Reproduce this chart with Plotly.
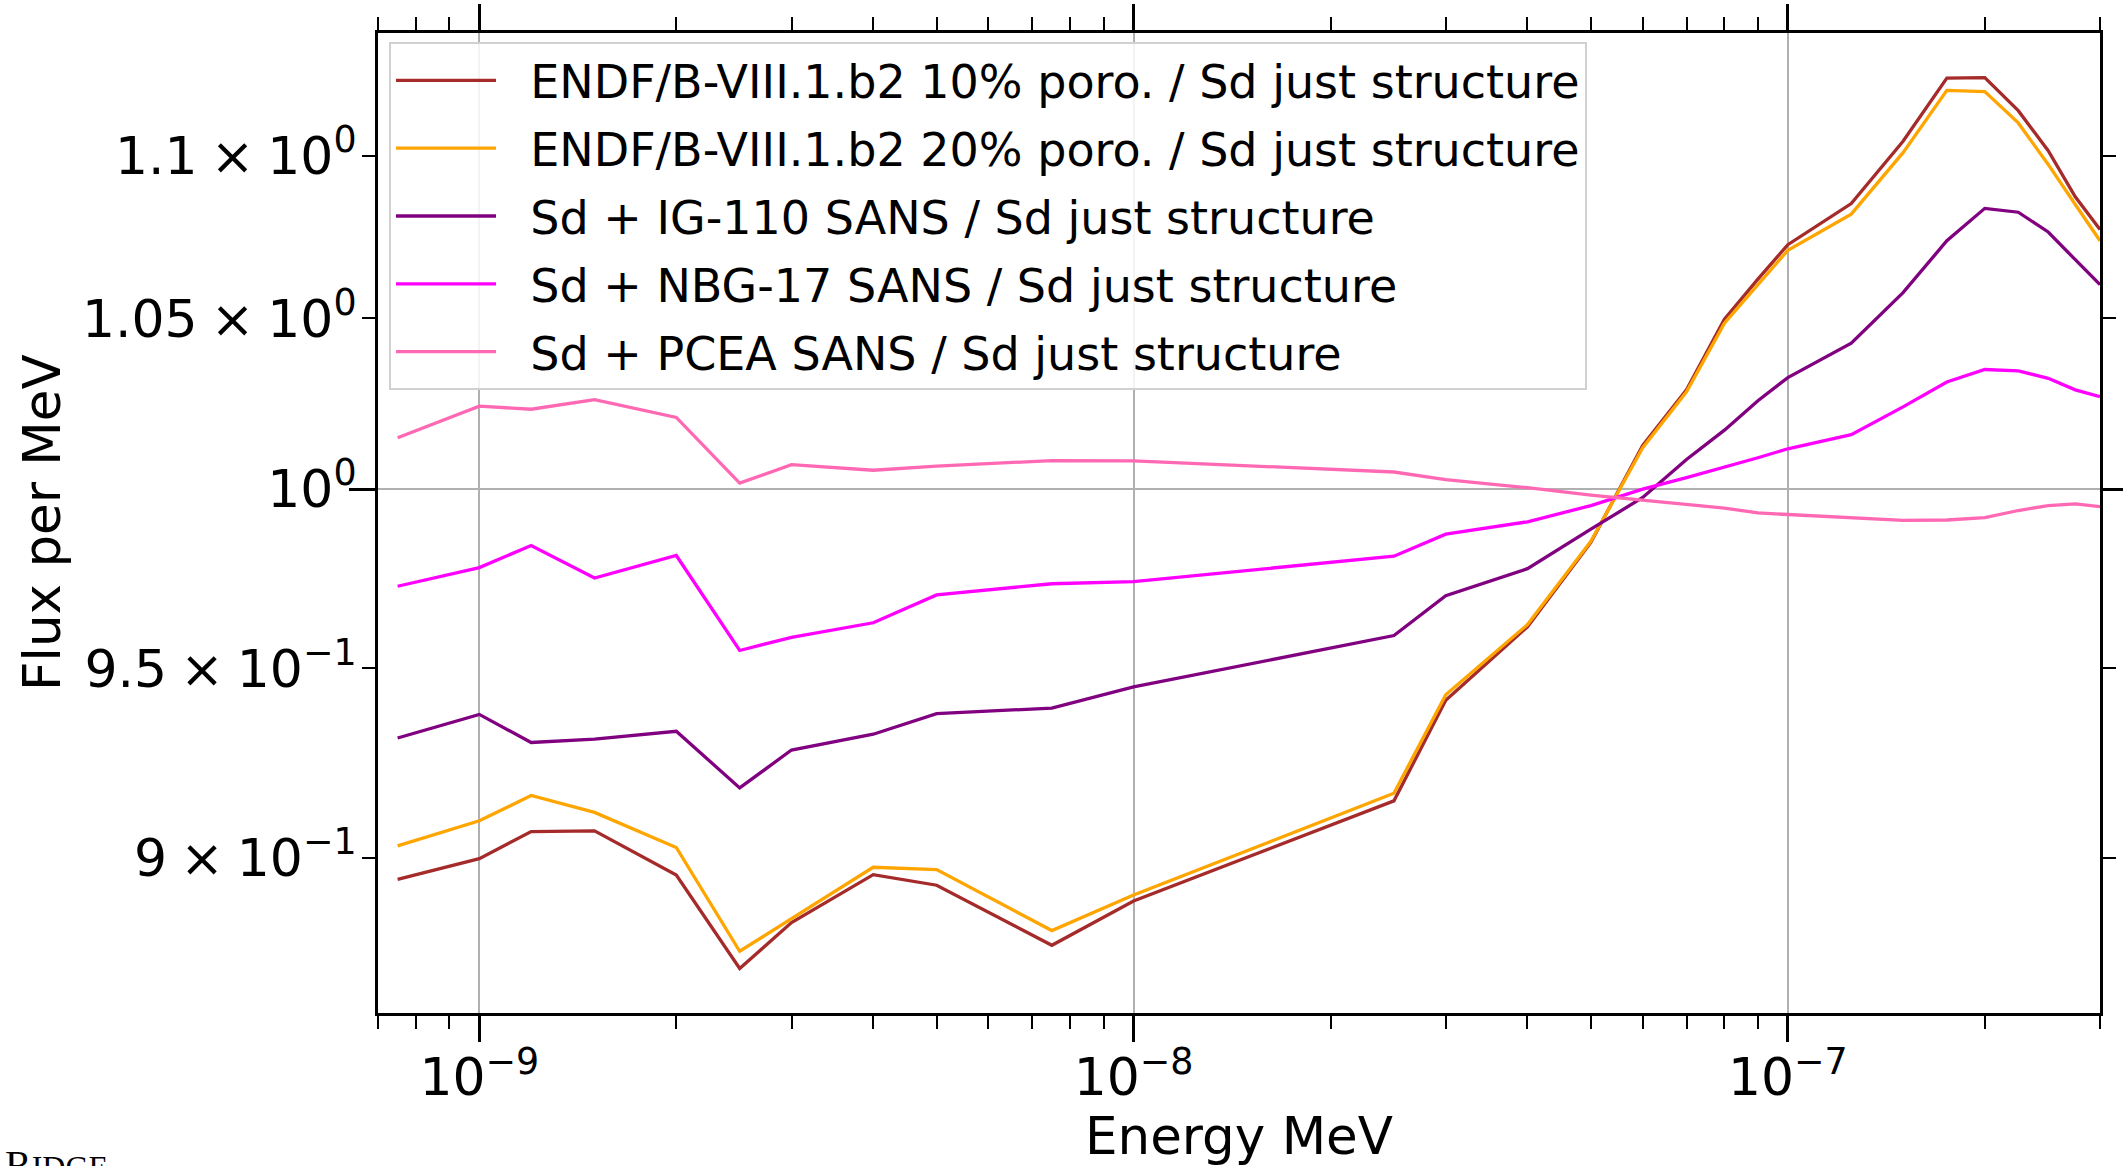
import math
import plotly.graph_objects as go

# ---------------- data ----------------
energy = [7.5e-10, 1e-9, 1.2e-9, 1.5e-9, 2e-9, 2.5e-9, 3e-9, 4e-9, 5e-9, 7.5e-9,
          1e-8, 2.5e-8, 3e-8, 4e-8, 5e-8, 6e-8, 7e-8, 8e-8, 9e-8, 1e-7,
          1.25e-7, 1.5e-7, 1.75e-7, 2e-7, 2.25e-7, 2.5e-7, 2.75e-7, 3e-7]

endf_10 = [0.8944, 0.8997, 0.9067, 0.9069, 0.8955, 0.8719, 0.8834, 0.8956, 0.8929, 0.8777,
           0.8889, 0.9147, 0.9414, 0.9614, 0.9849, 1.0126, 1.0288, 1.0498, 1.0619, 1.0724,
           1.0851, 1.1046, 1.1247, 1.1249, 1.1143, 1.1016, 1.0872, 1.0771]

endf_20 = [0.9030, 0.9095, 0.9161, 0.9117, 0.9026, 0.8762, 0.8844, 0.8975, 0.8969, 0.8814,
           0.8904, 0.9167, 0.9429, 0.9620, 0.9852, 1.0119, 1.0282, 1.0486, 1.0602, 1.0707,
           1.0818, 1.1010, 1.1208, 1.1204, 1.1104, 1.0973, 1.0848, 1.0736]

ig110 = [0.9313, 0.9376, 0.9301, 0.9310, 0.9331, 0.9181, 0.9281, 0.9323, 0.9378, 0.9393,
         0.9450, 0.9590, 0.9700, 0.9775, 0.9886, 0.9976, 1.0085, 1.0170, 1.0256, 1.0324,
         1.0426, 1.0578, 1.0736, 1.0836, 1.0824, 1.0763, 1.0678, 1.0602]

nbg17 = [0.9726, 0.9778, 0.9840, 0.9749, 0.9812, 0.9549, 0.9585, 0.9625, 0.9702, 0.9733,
         0.9739, 0.9810, 0.9872, 0.9907, 0.9953, 1.0000, 1.0033, 1.0062, 1.0090, 1.0116,
         1.0157, 1.0238, 1.0311, 1.0348, 1.0344, 1.0322, 1.0288, 1.0268]

pcea = [1.0148, 1.0240, 1.0231, 1.0259, 1.0207, 1.0017, 1.0070, 1.0054, 1.0066, 1.0082,
        1.0081, 1.0049, 1.0027, 1.0004, 0.9983, 0.9969, 0.9958, 0.9946, 0.9932, 0.9928,
        0.9919, 0.9911, 0.9912, 0.9919, 0.9939, 0.9953, 0.9958, 0.9950]

series_names = [
    "ENDF/B-VIII.1.b2 10% poro. / Sd just structure",
    "ENDF/B-VIII.1.b2 20% poro. / Sd just structure",
    "Sd + IG-110 SANS / Sd just structure",
    "Sd + NBG-17 SANS / Sd just structure",
    "Sd + PCEA SANS / Sd just structure",
]
series_values = [endf_10, endf_20, ig110, nbg17, pcea]
series_colors = ["#a52a2a", "#ffa500", "#800080", "#ff00ff", "#ff69b4"]

x_major_ticks = [1e-9, 1e-8, 1e-7]
x_major_labels = ["10<sup>\u22129</sup>", "10<sup>\u22128</sup>", "10<sup>\u22127</sup>"]
x_limits = [7e-10, 3e-7]

SP = "\u2005"  # medium (math) space around the multiplication sign
y_ticks = [0.9, 0.95, 1.0, 1.05, 1.1]
y_labels = ["9" + SP + "\u00d7" + SP + "10<sup>\u22121</sup>",
            "9.5" + SP + "\u00d7" + SP + "10<sup>\u22121</sup>",
            "10<sup>0</sup>",
            "1.05" + SP + "\u00d7" + SP + "10<sup>0</sup>",
            "1.1" + SP + "\u00d7" + SP + "10<sup>0</sup>"]
y_major = [1.0]

x_title = "Energy MeV"
y_title = "Flux per MeV"

# minor x ticks (2..9 x decade) inside limits
x_minor = []
for d in range(-10, -6):
    for m in range(2, 10):
        v = m * 10 ** d
        if x_limits[0] * 0.999 <= v <= x_limits[1] * 1.001:
            x_minor.append(v)

# matplotlib-like 5% margins on log y
all_y = [v for s in series_values for v in s]
lo, hi = math.log10(min(all_y)), math.log10(max(all_y))
span = hi - lo
y_range = [lo - 0.05 * span, hi + 0.05 * span]

FONT = "DejaVu Sans"
PAD = "\u00a0\u00a0"  # gap between legend line sample and its text

fig = go.Figure()
for name, vals, col in zip(series_names, series_values, series_colors):
    fig.add_trace(go.Scatter(x=energy, y=vals, mode="lines", name=PAD + name,
                             line=dict(color=col, width=3.3), legendgroup=name))

W, H = 2123, 1166
L, R, T, B = 378, 23, 33, 153
PW, PH = W - L - R, H - T - B

fig.update_layout(
    width=W, height=H,
    margin=dict(l=L, r=R, t=T, b=B, autoexpand=False),
    paper_bgcolor="white", plot_bgcolor="white",
    font=dict(family=FONT, color="black", size=52),
    showlegend=True,
    legend=dict(
        x=(389 - L) / PW, y=1 - (42 - T) / PH,
        xanchor="left", yanchor="top",
        bgcolor="rgba(255,255,255,0.85)", bordercolor="#d0d0d0", borderwidth=2,
        font=dict(family=FONT, size=46, color="black"),
        itemwidth=100, tracegroupgap=5,
    ),
    xaxis=dict(
        type="log", range=[math.log10(x_limits[0]), math.log10(x_limits[1])],
        showline=True, linecolor="black", linewidth=3, mirror="ticks",
        ticks="outside", ticklen=26, tickwidth=3, tickcolor="black",
        tickvals=x_major_ticks, ticktext=x_major_labels,
        tickfont=dict(family=FONT, size=52), ticklabelstandoff=-9,
        showgrid=True, gridcolor="#b0b0b0", gridwidth=2, zeroline=False,
        minor=dict(tickvals=x_minor, ticks="outside", ticklen=13, tickwidth=2,
                   tickcolor="black", showgrid=False),
        title=dict(text=x_title, font=dict(family=FONT, size=51.5), standoff=19),
    ),
    yaxis=dict(
        type="log", range=y_range,
        showline=True, linecolor="black", linewidth=3, mirror="ticks",
        ticks="outside", ticklen=13, tickwidth=2, tickcolor="black",
        tickvals=y_ticks, ticktext=y_labels,
        tickfont=dict(family=FONT, size=52), ticklabelstandoff=-5,
        showgrid=False, zeroline=False,
        minor=dict(tickvals=y_major, ticks="outside", ticklen=26, tickwidth=3,
                   tickcolor="black", showgrid=True, gridcolor="#b0b0b0", gridwidth=2),
    ),
)

# y-axis title as rotated annotation for exact placement
fig.add_annotation(
    xref="paper", yref="paper", x=(42 - L) / PW, y=0.5,
    xanchor="center", yanchor="middle", showarrow=False, textangle=-90,
    text=y_title, font=dict(family=FONT, size=51.5, color="black"),
)

fig.add_annotation(
    xref="paper", yref="paper",
    x=(3 - L) / PW, y=(H - B - 1140) / PH,
    xanchor="left", yanchor="top", showarrow=False,
    text="R<span style='font-size:32px'>IDGE</span>",
    font=dict(family="Liberation Serif", size=40, color="black"),
)

fig.write_html("out.html")
